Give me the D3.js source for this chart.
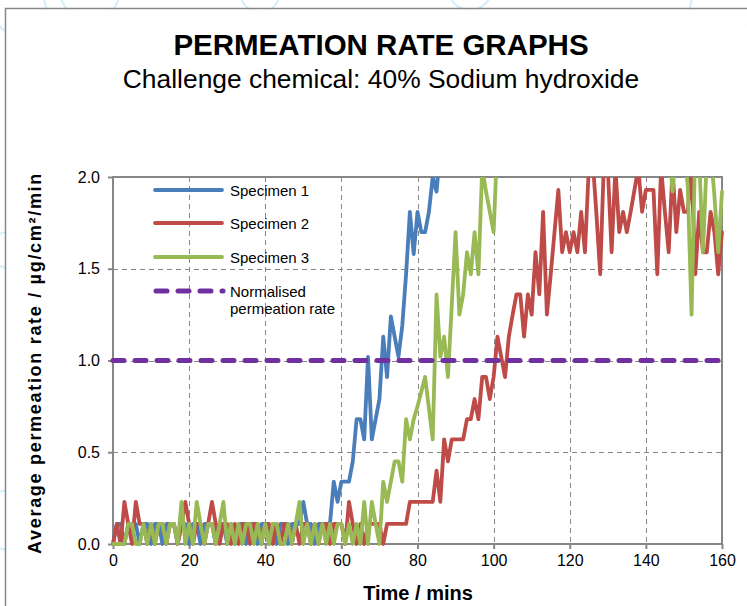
<!DOCTYPE html>
<html><head><meta charset="utf-8">
<script src="https://cdn.jsdelivr.net/npm/d3@7"></script>
<style>body{margin:0;background:#fff}svg{display:block;font-family:"Liberation Sans",Arial,sans-serif}</style>
</head><body><svg id="c" width="747" height="606"></svg>
<script>
// ---------- data ----------
const title = "PERMEATION RATE GRAPHS";
const subtitle = "Challenge chemical: 40% Sodium hydroxide";
const xTicks = [0, 20, 40, 60, 80, 100, 120, 140, 160];
const yTicks = [0.0, 0.5, 1.0, 1.5, 2.0];
const seriesNames = ["Specimen 1", "Specimen 2", "Specimen 3", "Normalised permeation rate"];

const minutes = [0,1,2,3,4,5,6,7,8,9,10,11,12,13,14,15,16,17,18,19,20,21,22,23,24,25,26,27,28,29,30,31,32,33,34,35,36,37,38,39,40,41,42,43,44,45,46,47,48,49,50,51,52,53,54,55,56,57,58,59,60,61,62,63,64,65,66,67,68,69,70,71,72,73,74,75,76,77,78,79,80,81,82,83,84,85,86,87,88,89,90,91,92,93,94,95,96,97,98,99,100,101,102,103,104,105,106,107,108,109,110,111,112,113,114,115,116,117,118,119,120,121,122,123,124,125,126,127,128,129,130,131,132,133,134,135,136,137,138,139,140,141,142,143,144,145,146,147,148,149,150,151,152,153,154,155,156,157,158,159,160];

// Specimen 1 (readings stop once the curve leaves the top of the chart)
const specimen1 = [0,0.11,0.11,0,0.11,0.11,0.11,0,0.11,0.11, 0,0.11,0.11,0,0.11,0.11,0.11,0,0.11,0.11,
  0,0.11,0.11,0,0.11,0.11,0.11,0,0.11,0.11, 0,0.11,0,0.11,0.11,0,0.11,0.11,0,0.11,
  0.11,0,0.11,0,0.11,0.11,0,0.11,0.11,0.11, 0.23,0.11,0.11,0,0.11,0.11,0.11,0.11,0.34,0.23,
  0.34,0.34,0.34,0.45,0.68,0.68,0.57,1.02,0.57,0.68, 0.79,1.13,0.91,1.24,1.13,1.02,1.19,1.47,1.81,1.58,
  1.81,1.70,1.70,1.81,2.0,1.92,2.15,2.3];

const specimen2 = [0,0.11,0,0.23,0.11,0,0.23,0.11,0.11,0, 0.11,0,0.11,0.11,0,0.11,0.11,0,0.11,0.23,
  0.11,0,0.11,0.11,0,0.11,0.23,0.11,0,0.11, 0.11,0,0.11,0,0.11,0.11,0,0.11,0.11,0,
  0.11,0.11,0,0.11,0,0.11,0.11,0,0.11,0, 0.11,0.11,0,0.11,0,0.11,0.11,0,0.11,0.11,
  0.11,0,0.23,0.11,0,0.11,0,0.11,0.11,0.11, 0.11,0,0.11,0.11,0.11,0.11,0.11,0.11,0.23,0.23,
  0.23,0.23,0.23,0.23,0.23,0.40,0.23,0.57,0.45,0.57, 0.57,0.57,0.57,0.68,0.68,0.79,0.68,0.91,0.91,0.79,
  0.91,1.13,1.02,0.91,1.13,1.25,1.36,1.36,1.13,1.36, 1.25,1.59,1.36,1.81,1.25,1.47,1.70,1.93,1.59,1.70,
  1.59,1.70,1.59,1.81,1.59,2.05,2.1,1.8,1.47,2.1, 2.05,1.59,2.05,1.70,1.81,1.70,1.81,1.93,2.05,1.81,
  1.93,1.93,1.93,1.47,2.05,1.81,1.59,2.05,1.70,1.93, 1.81,1.81,2.05,1.47,1.81,1.59,1.59,1.81,1.70,1.47,
  1.70];

// Specimen 3 (null = off the top of the chart, not read)
const specimen3 = [0,0,0,0,0.11,0.11,0,0,0.11,0, 0.11,0,0.11,0.11,0,0.11,0.11,0,0.23,0,
  0.11,0,0.23,0.11,0,0.11,0.11,0,0.11,0.23, 0,0.11,0,0.11,0,0.11,0.11,0,0.11,0,
  0.11,0,0.11,0.11,0,0,0.11,0,0.11,0.23, 0,0.11,0,0.11,0,0.11,0,0.11,0,0.11,
  0.11,0,0.11,0,0.11,0,0.23,0,0.23,0.11, 0,0.34,0.23,0.34,0.45,0.45,0.34,0.68,0.57,0.68,
  0.75,0.83,0.91,0.74,0.57,1.36,1.02,1.13,0.91,1.30, 1.70,1.25,1.36,1.59,1.47,1.70,1.47,2.05,1.92,1.81,
  1.70,2.2,null,null,null,null,null,null,null,null, null,null,null,null,null,null,null,null,null,null,
  null,null,null,null,null,null,null,null,null,null, null,null,null,null,null,null,null,null,null,null,
  null,null,null,null,2.3,2.2,2.2,1.92,2.2,2.3, 2.2,1.95,1.25,2.2,2.1,1.59,2.1,2.15,1.9,1.59,
  1.92];

const normalisedMinutes = [0, 160];
const normalisedRate = [1.0, 1.0];

// ---------- drawing ----------
const svg = d3.select("#c");
const W = 747, H = 606;
const P = {l:113, r:722, t:177, b:544};
const x = d3.scaleLinear().domain([0,160]).range([P.l, P.r]);
const y = d3.scaleLinear().domain([0,2]).range([P.b, P.t]);
const gray = "#868686";
const colors = ["#4A7EBB", "#BE4B48", "#98B954", "#7030A0"];

// faint page watermark behind the chart
const wm = svg.append("g").attr("fill","none").attr("stroke","#d4eef8").attr("stroke-width",2);
[[20,10,26],[90,-10,30],[260,-8,20],[470,-12,22],[720,10,30],[745,120,22],[8,250,18],[10,520,30],[740,560,20]]
  .forEach(c => wm.append("circle").attr("cx",c[0]).attr("cy",c[1]).attr("r",c[2]));

// chart frame
svg.append("rect").attr("x",5.5).attr("y",8.5).attr("width",W+10).attr("height",H+10)
  .attr("fill","#fff").attr("fill-opacity",0.9).attr("stroke",gray).attr("stroke-width",1.5);

// titles
svg.append("text").attr("x",381).attr("y",55).attr("text-anchor","middle")
  .attr("font-size",29.5).attr("font-weight","bold").text(title);
svg.append("text").attr("x",381).attr("y",88).attr("text-anchor","middle")
  .attr("font-size",26.4).text(subtitle);

// grid
const g = svg.append("g");
g.selectAll("line.vg").data(xTicks.filter(d=>d>0 && d<160)).join("line")
  .attr("x1",d=>Math.round(x(d))+0.5).attr("x2",d=>Math.round(x(d))+0.5)
  .attr("y1",P.t).attr("y2",P.b).attr("stroke",gray).attr("stroke-dasharray","5,4");
g.selectAll("line.hg").data(yTicks.filter(d=>d>0 && d<2)).join("line")
  .attr("y1",d=>Math.round(y(d))+0.5).attr("y2",d=>Math.round(y(d))+0.5)
  .attr("x1",P.l).attr("x2",P.r).attr("stroke",gray).attr("stroke-dasharray","5,4");

// axes
const xAxis = d3.axisBottom(x).tickValues(xTicks).tickFormat(d3.format("d")).tickSizeOuter(0).tickSize(5).tickPadding(6);
const yAxis = d3.axisLeft(y).tickValues(yTicks).tickFormat(d3.format(".1f")).tickSizeOuter(0).tickSize(5).tickPadding(8);
const gx = svg.append("g").attr("transform",`translate(0,${P.b})`).call(xAxis);
const gy = svg.append("g").attr("transform",`translate(${P.l},0)`).call(yAxis);
[gx, gy].forEach(a => {
  a.select(".domain").remove();
  a.selectAll(".tick line").attr("stroke",gray).attr("stroke-width",2);
  a.selectAll(".tick text").attr("font-size",16).attr("fill","#000").attr("font-family",'"Liberation Sans",Arial,sans-serif');
});
// plot border
svg.append("rect").attr("x",P.l).attr("y",P.t).attr("width",P.r-P.l).attr("height",P.b-P.t)
  .attr("fill","none").attr("stroke",gray).attr("stroke-width",2);

// axis titles
svg.append("text").attr("x",418).attr("y",600).attr("text-anchor","middle")
  .attr("font-size",20).attr("font-weight","bold").text("Time / mins");
svg.append("text").attr("transform","translate(41,363) rotate(-90)").attr("text-anchor","middle")
  .attr("font-size",18).attr("font-weight","bold").attr("letter-spacing",1.7)
  .text("Average permeation rate / µg/cm²/min");

// clip
svg.append("clipPath").attr("id","clip").append("rect")
  .attr("x",P.l-4).attr("y",P.t).attr("width",P.r-P.l+8).attr("height",P.b-P.t+6);
const plot = svg.append("g").attr("clip-path","url(#clip)");

const line = d3.line().defined(d=>d[1]!=null).x(d=>x(d[0])).y(d=>y(d[1]));
[specimen1, specimen2, specimen3].forEach((s,i) => {
  const pts = s.map((v,k)=>[minutes[k], v]);
  plot.append("path").attr("d", line(pts)).attr("fill","none")
    .attr("stroke",colors[i]).attr("stroke-width",3.8).attr("stroke-linejoin","round").attr("stroke-linecap","round");
});
plot.append("path").attr("d", line(normalisedMinutes.map((m,k)=>[m, normalisedRate[k]])))
  .attr("fill","none").attr("stroke",colors[3]).attr("stroke-width",5)
  .attr("stroke-dasharray","11,11").attr("stroke-linecap","round");

// legend
const lg = svg.append("g");
const rows = [190, 223, 257, 291];
seriesNames.forEach((n,i) => {
  const ln = lg.append("line").attr("x1",155).attr("x2",222).attr("y1",rows[i]).attr("y2",rows[i])
    .attr("stroke",colors[i]).attr("stroke-linecap","round");
  if (i===3) ln.attr("stroke-width",5).attr("stroke-dasharray","11,11").attr("x1",156).attr("x2",223);
  else ln.attr("stroke-width",3.8);
  if (i<3) {
    lg.append("text").attr("x",230).attr("y",rows[i]+5.5).attr("font-size",15).text(n);
  } else {
    lg.append("text").attr("x",230).attr("y",rows[i]+5.5).attr("font-size",15).text("Normalised");
    lg.append("text").attr("x",230).attr("y",rows[i]+22.5).attr("font-size",15).text("permeation rate");
  }
});
</script></body></html>
